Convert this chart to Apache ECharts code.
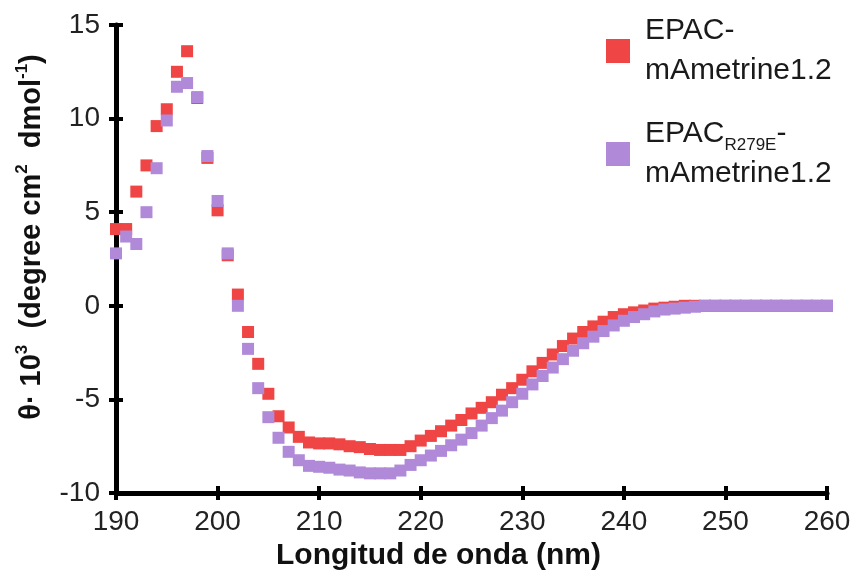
<!DOCTYPE html>
<html>
<head>
<meta charset="utf-8">
<script src="https://cdn.jsdelivr.net/npm/echarts@6/dist/echarts.min.js"></script>
<style>
  html, body { margin: 0; padding: 0; background: #fff; }
  #chart { width: 855px; height: 574px; }
</style>
</head>
<body>
<div id="chart"></div>
<script>
// Wavelengths (nm), one reading per nanometre
const wavelengths = [];
for (let w = 190; w <= 260; w++) wavelengths.push(w);

// Molar ellipticity θ·10^3 (degree cm² dmol⁻¹)
const epacWT = [
  4.1, 4.1, 6.1, 7.5, 9.6, 10.5, 12.5, 13.6, 11.1, 7.9,
  5.1, 2.7, 0.6, -1.4, -3.1, -4.7, -5.9, -6.5, -7.0, -7.3,
  -7.35, -7.35, -7.4, -7.5, -7.55, -7.65, -7.7, -7.7, -7.7, -7.5,
  -7.2, -6.95, -6.7, -6.4, -6.1, -5.75, -5.45, -5.15, -4.75, -4.4,
  -3.95, -3.5, -3.05, -2.6, -2.15, -1.75, -1.4, -1.1, -0.85, -0.6,
  -0.45, -0.35, -0.25, -0.15, -0.1, -0.05, 0, 0, 0, 0,
  0, 0, 0, 0, 0, 0, 0, 0, 0, 0,
  0
];
const epacR279E = [
  2.8, 3.7, 3.3, 5.0, 7.35, 9.9, 11.7, 11.9, 11.15, 8.0,
  5.6, 2.8, 0.0, -2.3, -4.4, -5.95, -7.05, -7.8, -8.25, -8.55,
  -8.6, -8.65, -8.75, -8.8, -8.9, -8.95, -8.95, -8.95, -8.8, -8.5,
  -8.25, -8.0, -7.75, -7.45, -7.15, -6.8, -6.4, -6.0, -5.6, -5.15,
  -4.7, -4.2, -3.75, -3.3, -2.85, -2.4, -2.0, -1.65, -1.35, -1.05,
  -0.8, -0.6, -0.45, -0.3, -0.2, -0.15, -0.1, -0.05, 0, 0,
  0, 0, 0, 0, 0, 0, 0, 0, 0, 0,
  0
];

const xTicks = { min: 190, max: 260, interval: 10 };
const yTicks = { min: -10, max: 15, interval: 5 };

const seriesNames = ['EPAC-mAmetrine1.2', 'EPACR279E-mAmetrine1.2'];
const seriesColors = ['#f04545', '#b08ad8'];

const pair = (ys) => wavelengths.map((w, i) => [w, ys[i]]);

const FONT = '"Liberation Sans", Arial, Helvetica, sans-serif';
const axisLine = { onZero: false, lineStyle: { color: '#000', width: 5 } };
const tickStyle = { lineStyle: { color: '#000', width: 4 }, length: 7 };

const chart = echarts.init(document.getElementById('chart'), null, { renderer: 'canvas' });
chart.setOption({
  animation: false,
  backgroundColor: '#fff',
  grid: { left: 116, right: 28, top: 25, bottom: 81, containLabel: false, outerBoundsMode: 'none' },
  legend: {
    orient: 'vertical',
    left: 601,
    top: 6,
    itemWidth: 24,
    itemHeight: 24,
    itemGap: 23,
    icon: 'rect',
    selectedMode: false,
    data: seriesNames,
    textStyle: {
      fontFamily: FONT,
      fontSize: 30,
      color: '#1a1a1a',
      lineHeight: 40,
      padding: [0, 0, 0, 10],
      rich: {
        a: { fontFamily: FONT, fontSize: 30, color: '#1a1a1a', lineHeight: 40 },
        s: { fontFamily: FONT, fontSize: 17, color: '#1a1a1a', lineHeight: 36, verticalAlign: 'bottom' }
      }
    },
    formatter: function (name) {
      if (name === seriesNames[0]) return '{a|EPAC-}\n{a|mAmetrine1.2}';
      return '{a|EPAC}{s|R279E}{a|-}\n{a|mAmetrine1.2}';
    }
  },
  xAxis: [
    {
      type: 'value', position: 'bottom',
      min: xTicks.min, max: xTicks.max, interval: xTicks.interval,
      axisLine: axisLine,
      axisTick: Object.assign({ inside: false }, tickStyle),
      splitLine: { show: false },
      axisLabel: { fontFamily: FONT, fontSize: 28, color: '#222', margin: 15 },
      name: 'Longitud de onda (nm)',
      nameLocation: 'middle',
      nameGap: 46,
      nameTextStyle: { fontFamily: FONT, fontSize: 30, fontWeight: 'bold', color: '#111', padding: [0, 66, 0, 0] }
    },
    {
      type: 'value', position: 'bottom',
      min: xTicks.min, max: xTicks.max, interval: xTicks.interval,
      axisLine: { show: false, onZero: false },
      axisTick: Object.assign({ inside: true }, tickStyle),
      splitLine: { show: false },
      axisLabel: { show: false }
    }
  ],
  yAxis: [
    {
      type: 'value', position: 'left',
      min: yTicks.min, max: yTicks.max, interval: yTicks.interval,
      axisLine: axisLine,
      axisTick: Object.assign({ inside: false }, tickStyle),
      splitLine: { show: false },
      axisLabel: { fontFamily: FONT, fontSize: 28, color: '#222', margin: 16 },
      name: '{b|θ· 10}{sup|3}{b|  (degree cm}{sup|2}{b|  dmol}{sup|-1}{b|)}',
      nameLocation: 'middle',
      nameGap: 66,
      nameRotate: 90,
      nameTextStyle: {
        fontFamily: FONT, fontSize: 29, fontWeight: 'bold', color: '#111',
        padding: [0, 0, 0, 44],
        rich: {
          b: { fontFamily: FONT, fontSize: 29, fontWeight: 'bold', color: '#111', lineHeight: 36 },
          sup: { fontFamily: FONT, fontSize: 17, fontWeight: 'bold', color: '#111', lineHeight: 36, verticalAlign: 'top' }
        }
      }
    },
    {
      type: 'value', position: 'left',
      min: yTicks.min, max: yTicks.max, interval: yTicks.interval,
      axisLine: { show: false, onZero: false },
      axisTick: Object.assign({ inside: true }, tickStyle),
      splitLine: { show: false },
      axisLabel: { show: false }
    }
  ],
  series: [
    {
      name: seriesNames[0],
      type: 'scatter',
      symbol: 'rect',
      symbolSize: 12,
      clip: false,
      itemStyle: { color: seriesColors[0], opacity: 1 },
      data: pair(epacWT)
    },
    {
      name: seriesNames[1],
      type: 'scatter',
      symbol: 'rect',
      symbolSize: 12,
      clip: false,
      itemStyle: { color: seriesColors[1], opacity: 1 },
      data: pair(epacR279E)
    }
  ]
});
</script>
</body>
</html>
